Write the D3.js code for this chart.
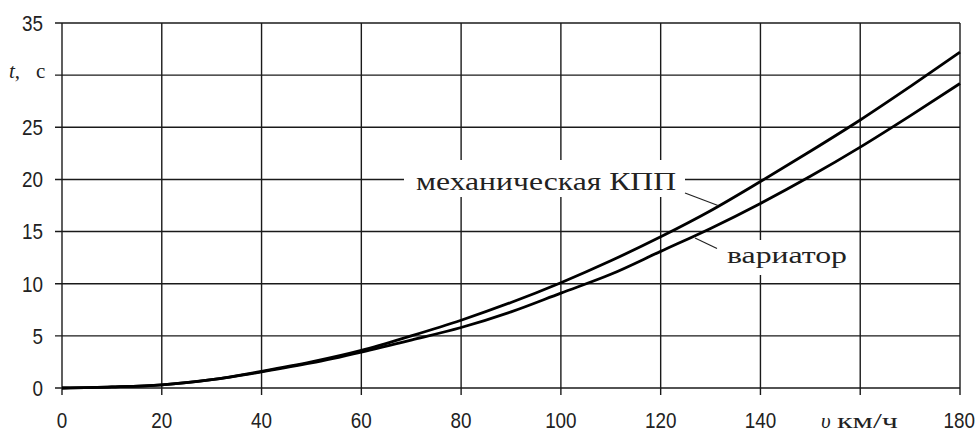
<!DOCTYPE html>
<html>
<head>
<meta charset="utf-8">
<script src="https://cdn.jsdelivr.net/npm/d3@7"></script>
<style>
  body { margin: 0; background: #fff; }
  svg { display: block; }
  .serif { font-family: "Liberation Serif", "DejaVu Serif", "Noto Serif", serif; }
  .tick { font-family: "Liberation Sans", Arial, sans-serif; }
</style>
</head>
<body>
<div id="chart"></div>
<script>
// скорость, км/ч
const speed = [0, 10, 20, 30, 40, 50, 60, 70, 80, 90, 100, 110, 120, 130, 140, 150, 160, 170, 180];
// время разгона, с
const mechTime = [0, 0.1, 0.3, 0.8, 1.6, 2.5, 3.6, 5.0, 6.5, 8.2, 10.1, 12.2, 14.5, 17.0, 19.8, 22.7, 25.7, 28.9, 32.2];
const cvtTime  = [0, 0.1, 0.3, 0.8, 1.55, 2.4, 3.45, 4.6, 5.8, 7.3, 9.1, 10.9, 13.1, 15.3, 17.7, 20.3, 23.1, 26.1, 29.2];

const xTicks = [0, 20, 40, 60, 80, 100, 120, 140, 160, 180];
const yTicks = [0, 5, 10, 15, 20, 25, 30, 35];
const xTickLabels = ["0", "20", "40", "60", "80", "100", "120", "140", "", "180"];
const yTickLabels = ["0", "5", "10", "15", "20", "25", "", "35"];

const width = 979, height = 432;
const plot = {left: 62, right: 960, top: 23, bottom: 388};

const x = d3.scaleLinear().domain([0, 180]).range([plot.left, plot.right]);
const y = d3.scaleLinear().domain([0, 35]).range([plot.bottom, plot.top]);

const svg = d3.select("#chart").append("svg")
    .attr("width", width)
    .attr("height", height);

const grid = svg.append("g").attr("class", "grid")
    .style("stroke", "#1a1a1a")
    .style("stroke-width", 1.4);

grid.selectAll(".hline")
    .data(yTicks).enter()
  .append("line")
    .attr("x1", plot.left - 7)
    .attr("x2", plot.right)
    .attr("y1", d => y(d))
    .attr("y2", d => y(d));

grid.selectAll(".vline")
    .data(xTicks).enter()
  .append("line")
    .attr("x1", d => x(d))
    .attr("x2", d => x(d))
    .attr("y1", plot.top)
    .attr("y2", plot.bottom + 7);

// узкие цифры, как в оригинале
const digitW = 10.5;

svg.append("g").selectAll("text")
    .data(yTicks.filter((d, i) => yTickLabels[i] !== "")).enter()
  .append("text")
    .attr("class", "tick")
    .attr("x", 43)
    .attr("y", d => y(d))
    .attr("dy", "0.36em")
    .attr("text-anchor", "end")
    .attr("textLength", d => String(d).length * digitW)
    .attr("lengthAdjust", "spacingAndGlyphs")
    .style("font-size", "22px")
    .style("fill", "#222")
    .text(d => yTickLabels[yTicks.indexOf(d)]);

// последняя подпись прижата к краю
svg.append("g").selectAll("text")
    .data(xTicks.filter((d, i) => xTickLabels[i] !== "")).enter()
  .append("text")
    .attr("class", "tick")
    .attr("x", d => d === 180 ? Math.min(x(d) + 16, width - 4) : x(d))
    .attr("y", 428)
    .attr("text-anchor", d => d === 180 ? "end" : "middle")
    .attr("textLength", d => String(d).length * digitW)
    .attr("lengthAdjust", "spacingAndGlyphs")
    .style("font-size", "22px")
    .style("fill", "#222")
    .text(d => xTickLabels[xTicks.indexOf(d)]);

// белые подложки под подписями кривых
svg.append("rect")
    .attr("x", 404).attr("y", 160)
    .attr("width", 281).attr("height", 37)
    .style("fill", "#fff");
svg.append("rect")
    .attr("x", 722).attr("y", 240)
    .attr("width", 130).attr("height", 35)
    .style("fill", "#fff");

const line = d3.line()
    .x((d, i) => x(speed[i]))
    .y(d => y(d))
    .curve(d3.curveMonotoneX);

svg.append("path")
    .datum(mechTime)
    .attr("d", line)
    .style("fill", "none")
    .style("stroke", "#000")
    .style("stroke-width", 2.8);

svg.append("path")
    .datum(cvtTime)
    .attr("d", line)
    .style("fill", "none")
    .style("stroke", "#000")
    .style("stroke-width", 2.8);

// выноски
svg.append("line")
    .attr("x1", 685).attr("y1", 193)
    .attr("x2", 718).attr("y2", 205.5)
    .style("stroke", "#222").style("stroke-width", 1.2);
svg.append("line")
    .attr("x1", 695).attr("y1", 238)
    .attr("x2", 717).attr("y2", 248.5)
    .style("stroke", "#222").style("stroke-width", 1.2);

svg.append("text")
    .attr("class", "serif")
    .attr("x", 416).attr("y", 190)
    .attr("textLength", 260)
    .attr("lengthAdjust", "spacingAndGlyphs")
    .style("font-size", "26px")
    .style("fill", "#222")
    .text("механическая КПП");

svg.append("text")
    .attr("class", "serif")
    .attr("x", 727).attr("y", 263)
    .attr("textLength", 120)
    .attr("lengthAdjust", "spacingAndGlyphs")
    .style("font-size", "24px")
    .style("fill", "#222")
    .text("вариатор");

// подписи осей
const yTitle = svg.append("text")
    .attr("class", "serif")
    .attr("x", 9).attr("y", 78)
    .style("font-size", "21px")
    .style("fill", "#222");
yTitle.append("tspan").style("font-style", "italic").text("t");
yTitle.append("tspan").text(",");
yTitle.append("tspan").attr("x", 36).text("с");

const xTitle = svg.append("text")
    .attr("class", "serif")
    .attr("x", 821).attr("y", 428)
    .style("font-size", "21px")
    .style("fill", "#222");
xTitle.append("tspan").style("font-style", "italic").text("υ");
xTitle.append("tspan")
    .attr("x", 837)
    .attr("textLength", 61)
    .attr("lengthAdjust", "spacingAndGlyphs")
    .text("км/ч");
</script>
</body>
</html>
